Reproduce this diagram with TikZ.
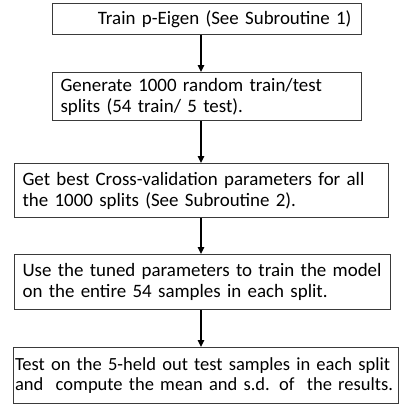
\documentclass[tikz,border=0pt]{standalone}
\usepackage{fontspec}
\setmainfont{Carlito}
\usepackage{tikz}
\usetikzlibrary{arrows.meta,positioning,calc}
\definecolor{boxline}{HTML}{3A3A3A}
\tikzset{
  stepbox/.style = {draw=boxline,line width=1.1bp,anchor=north west,
                    align=left,inner ysep=1bp,
                    font=\fontsize{19}{21}\selectfont},
  flowarr/.style = {-{Triangle[length=7bp,width=6.5bp]},line width=1.4bp},
}

\begin{document}
\begin{tikzpicture}[x=1bp,y=-1bp]
  \useasboundingbox (0,0) rectangle (401,408);
  \coordinate (axis) at (201,0);

  \node[stepbox,align=right,inner xsep=10bp,text width=289bp,minimum height=31bp]
     (train) at (52,3) {Train p-Eigen (See Subroutine 1)};
  \node[stepbox,inner xsep=8bp,text width=293bp,minimum height=48bp]
     (split) at (52,72) {Generate 1000 random train/test\\splits (54 train/ 5 test).};
  \node[stepbox,inner xsep=8bp,text width=358bp,minimum height=54bp]
     (cv) at (14,163) {Get best Cross-validation parameters for all\\the 1000 splits (See Subroutine 2).};
  \node[stepbox,inner xsep=8bp,text width=360bp,minimum height=55bp]
     (tune) at (14,254) {Use the tuned parameters to train the model\\on the entire 54 samples in each split.};
  \node[stepbox,inner xsep=1.5bp,text width=382bp,minimum height=56bp,
        font=\fontsize{18.6}{21}\selectfont]
     (test) at (13,347) {Test on the 5-held out test samples in each split\\and\ \ compute the mean and s.d. of\ \ the results.};

  \foreach \a/\b in {train/split,split/cv,cv/tune,tune/test}
     \draw[flowarr] (\a.south -| axis) -- (\b.north -| axis);
\end{tikzpicture}
\end{document}
